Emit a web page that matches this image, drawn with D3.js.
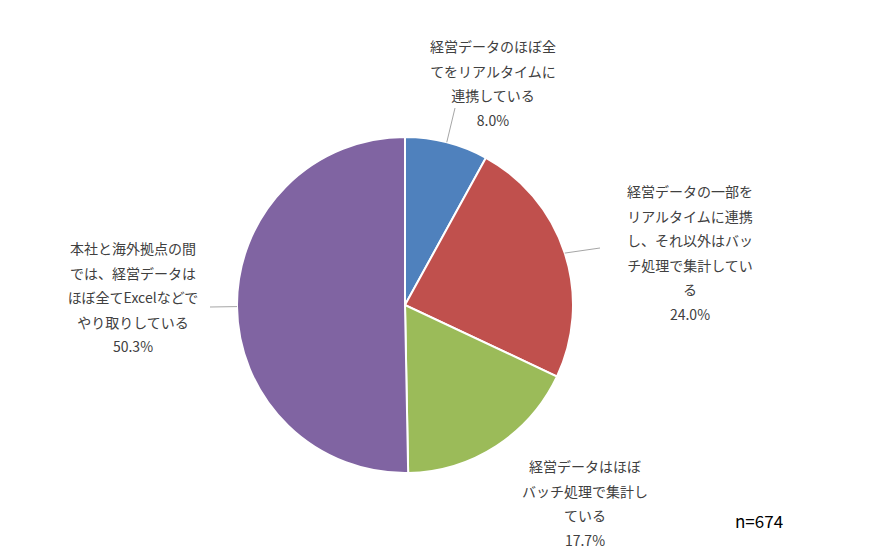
<html>
<head>
<script src="https://d3js.org/d3.v7.min.js"></script>
</head>
<body style="margin:0">
<svg width="888" height="560"></svg>
<script>
const categories = [
  ["経営データのほぼ全", "てをリアルタイムに", "連携している"],
  ["経営データの一部を", "リアルタイムに連携", "し、それ以外はバッ", "チ処理で集計してい", "る"],
  ["経営データはほぼ", "バッチ処理で集計し", "ている"],
  ["本社と海外拠点の間", "では、経営データは", "ほぼ全てExcelなどで", "やり取りしている"]
];
const values = [8.0, 24.0, 17.7, 50.3];
const colors = ["#4f81bd", "#c0504d", "#9bbb59", "#8064a2"];
// label anchor (center x, first line y) and leader line end
const labelPos = [[493, 52], [690, 197], [585, 472], [133, 254]];
const leaderEnd = [[455, 108], [600, 248], null, [210, 307]];

const svg = d3.select("svg");
const cx = 405, cy = 305, r = 168;
const g = svg.append("g").attr("transform", `translate(${cx},${cy})`);
const pie = d3.pie().sort(null).value(d => d);
const arc = d3.arc().innerRadius(0).outerRadius(r);
const arcs = pie(values);

g.selectAll("path").data(arcs).join("path")
  .attr("d", arc)
  .attr("fill", (d, i) => colors[i])
  .attr("stroke", "#fff").attr("stroke-width", 2);

arcs.forEach((d, i) => {
  if (!leaderEnd[i]) return;
  const a = (d.startAngle + d.endAngle) / 2;
  const x0 = cx + Math.sin(a) * r, y0 = cy - Math.cos(a) * r;
  svg.append("line")
    .attr("x1", x0).attr("y1", y0)
    .attr("x2", leaderEnd[i][0]).attr("y2", leaderEnd[i][1])
    .attr("stroke", "#a6a6a6").attr("stroke-width", 1);
});

categories.forEach((lines, i) => {
  const t = svg.append("text")
    .attr("text-anchor", "middle")
    .attr("font-family", "Noto Sans CJK JP, sans-serif")
    .attr("font-size", 14).attr("fill", "#404040");
  lines.concat([values[i].toFixed(1) + "%"]).forEach((s, k) => {
    t.append("tspan").attr("x", labelPos[i][0]).attr("y", labelPos[i][1] + k * 24.5).text(s);
  });
});

svg.append("text").attr("x", 735).attr("y", 528)
  .attr("font-family", "Noto Sans CJK JP, sans-serif")
  .attr("font-size", 17).attr("fill", "#000").text("n=674");
</script>
</body>
</html>
